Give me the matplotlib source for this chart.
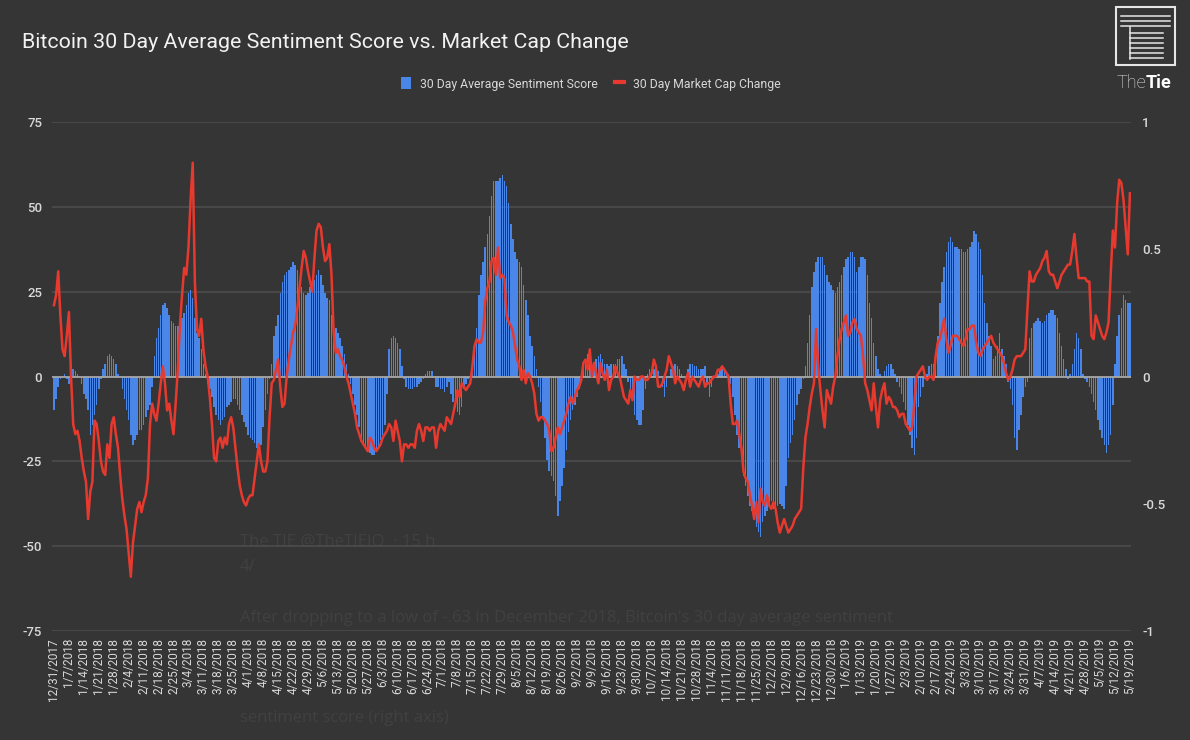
import matplotlib
matplotlib.use("Agg")
import matplotlib.pyplot as plt
from matplotlib.patches import Patch, Rectangle
from matplotlib.lines import Line2D
import pandas as pd

plt.rcParams['font.family'] = ['Roboto', 'DejaVu Sans']

START = '2017-12-31'

# 30 day average sentiment score (right axis), one value per day, one week per row
sentiment = [
    -0.13, -0.09, -0.04, -0.01, 0.00, 0.01, -0.01,
    -0.03, 0.01, 0.03, 0.02, 0.01, 0.00, -0.03,
    -0.07, -0.09, -0.13, -0.23, -0.19, -0.15, -0.11,
    -0.05, -0.01, 0.03, 0.05, 0.08, 0.09, 0.08,
    0.07, 0.05, 0.01, 0.00, -0.05, -0.09, -0.13,
    -0.17, -0.23, -0.27, -0.25, -0.23, -0.21, -0.21,
    -0.19, -0.16, -0.13, -0.11, -0.04, 0.08, 0.15,
    0.19, 0.24, 0.28, 0.29, 0.27, 0.24, 0.22,
    0.21, 0.20, 0.20, 0.21, 0.23, 0.25, 0.28,
    0.33, 0.34, 0.31, 0.23, 0.17, 0.15, 0.11,
    0.05, 0.01, -0.03, -0.05, -0.08, -0.12, -0.15,
    -0.17, -0.19, -0.17, -0.16, -0.12, -0.11, -0.10,
    -0.09, -0.09, -0.11, -0.13, -0.15, -0.18, -0.20,
    -0.23, -0.24, -0.25, -0.26, -0.28, -0.29, -0.27,
    -0.20, -0.13, -0.07, -0.01, 0.05, 0.16, 0.20,
    0.24, 0.33, 0.37, 0.40, 0.41, 0.42, 0.43,
    0.45, 0.44, 0.42, 0.37, 0.35, 0.33, 0.32,
    0.33, 0.35, 0.37, 0.38, 0.40, 0.42, 0.40,
    0.36, 0.33, 0.31, 0.30, 0.24, 0.21, 0.19,
    0.17, 0.15, 0.12, 0.09, 0.05, 0.01, -0.03,
    -0.07, -0.11, -0.15, -0.20, -0.24, -0.27, -0.28,
    -0.29, -0.30, -0.31, -0.31, -0.29, -0.28, -0.25,
    -0.23, -0.19, -0.07, 0.11, 0.15, 0.16, 0.15,
    0.13, 0.11, 0.04, -0.01, -0.04, -0.05, -0.05,
    -0.05, -0.04, -0.04, -0.03, -0.02, -0.01, 0.01,
    0.02, 0.02, 0.02, 0.00, -0.04, -0.04, -0.05,
    -0.05, -0.06, -0.04, -0.02, -0.07, -0.10, -0.12,
    -0.14, -0.15, -0.12, -0.05, -0.03, -0.01, 0.00,
    0.05, 0.12, 0.19, 0.32, 0.40, 0.45, 0.51,
    0.56, 0.63, 0.71, 0.77, 0.77, 0.77, 0.78,
    0.79, 0.77, 0.75, 0.68, 0.60, 0.54, 0.49,
    0.46, 0.45, 0.43, 0.36, 0.30, 0.24, 0.16,
    0.12, 0.08, 0.03, -0.04, -0.10, -0.16, -0.24,
    -0.33, -0.37, -0.39, -0.41, -0.47, -0.55, -0.49,
    -0.43, -0.36, -0.29, -0.22, -0.17, -0.13, -0.11,
    -0.08, -0.05, -0.02, 0.03, 0.05, 0.09, 0.05,
    0.04, 0.05, 0.07, 0.08, 0.09, 0.07, 0.05,
    0.05, 0.04, 0.05, 0.05, 0.05, 0.07, 0.07,
    0.08, 0.05, 0.03, -0.02, -0.05, -0.08, -0.15,
    -0.17, -0.19, -0.19, -0.13, -0.05, 0.01, 0.03,
    0.03, 0.03, 0.03, 0.02, 0.00, -0.04, -0.08,
    -0.04, 0.00, 0.03, 0.04, 0.05, 0.04, 0.03,
    0.01, 0.00, -0.01, 0.03, 0.05, 0.05, 0.04,
    0.04, 0.03, 0.03, 0.03, 0.04, -0.03, -0.08,
    -0.04, -0.01, 0.00, 0.01, 0.03, 0.03, 0.02,
    0.02, 0.01, -0.03, -0.08, -0.15, -0.23, -0.28,
    -0.32, -0.39, -0.43, -0.47, -0.51, -0.53, -0.56,
    -0.59, -0.61, -0.63, -0.57, -0.55, -0.53, -0.51,
    -0.49, -0.52, -0.52, -0.51, -0.50, -0.51, -0.52,
    -0.43, -0.32, -0.26, -0.23, -0.17, -0.11, -0.07,
    -0.05, -0.01, 0.04, 0.13, 0.24, 0.35, 0.41,
    0.45, 0.47, 0.47, 0.47, 0.44, 0.40, 0.37,
    0.36, 0.34, 0.33, 0.35, 0.37, 0.40, 0.43,
    0.46, 0.47, 0.49, 0.49, 0.47, 0.41, 0.43,
    0.47, 0.47, 0.46, 0.40, 0.29, 0.23, 0.13,
    0.08, 0.03, 0.01, 0.00, 0.02, 0.04, 0.05,
    0.05, 0.03, 0.01, -0.02, -0.04, -0.07, -0.10,
    -0.13, -0.19, -0.23, -0.28, -0.31, -0.24, -0.12,
    -0.08, -0.04, -0.01, 0.01, 0.04, 0.05, 0.05,
    0.09, 0.16, 0.29, 0.37, 0.43, 0.49, 0.53,
    0.55, 0.53, 0.51, 0.51, 0.50, 0.50, 0.49,
    0.49, 0.50, 0.51, 0.53, 0.57, 0.56, 0.53,
    0.50, 0.40, 0.29, 0.21, 0.16, 0.12, 0.07,
    0.08, 0.12, 0.17, 0.11, 0.08, 0.05, -0.02,
    -0.05, -0.11, -0.24, -0.29, -0.21, -0.15, -0.08,
    -0.04, -0.02, 0.15, 0.19, 0.21, 0.22, 0.23,
    0.22, 0.21, 0.22, 0.24, 0.25, 0.26, 0.26,
    0.24, 0.23, 0.17, 0.12, 0.07, 0.03, -0.01,
    0.01, 0.05, 0.11, 0.17, 0.15, 0.11, 0.01,
    -0.01, -0.02, -0.04, -0.07, -0.10, -0.13, -0.17,
    -0.21, -0.24, -0.27, -0.30, -0.27, -0.23, -0.11,
    0.05, 0.16, 0.24, 0.27, 0.32, 0.30, 0.29,
    0.29,
]

# 30 day market cap change in percent (left axis)
market_cap = [
    21, 24, 31, 18, 8, 6, 12,
    19, 0, -14, -17, -16, -19, -24,
    -28, -31, -42, -34, -31, -13, -14,
    -19, -25, -28, -29, -20, -24, -14,
    -12, -17, -21, -29, -36, -41, -45,
    -52, -59, -49, -44, -39, -37, -40,
    -37, -35, -30, -14, -8, -11, -13,
    -8, -2, 3, -2, -10, -8, -13,
    -17, -8, 2, 15, 24, 32, 30,
    38, 52, 63, 28, 14, 12, 17,
    8, 3, 0, -6, -14, -24, -25,
    -19, -18, -21, -18, -20, -14, -12,
    -15, -21, -27, -32, -35, -37, -38,
    -36, -35, -35, -30, -25, -20, -25,
    -28, -28, -25, -12, -2, -1, 2,
    5, -3, -9, -8, 0, 5, 9,
    13, 15, 20, 26, 32, 37, 35,
    31, 28, 25, 35, 43, 45, 44,
    38, 34, 35, 39, 30, 13, 7,
    8, 6, 5, 3, 0, -2, -5,
    -8, -11, -15, -17, -19, -20, -21,
    -22, -18, -19, -21, -22, -21, -20,
    -18, -17, -16, -14, -15, -19, -13,
    -16, -19, -25, -20, -20, -21, -20,
    -20, -21, -16, -14, -16, -19, -15,
    -15, -16, -15, -15, -21, -16, -14,
    -15, -16, -12, -13, -14, -11, -8,
    -4, -6, -2, -3, -4, -3, -2,
    3, 9, 11, 10, 10, 13, 22,
    26, 28, 34, 35, 30, 38, 29,
    30, 29, 18, 16, 15, 13, 9,
    5, 3, -1, 2, -2, 1, 0,
    -2, -5, -11, -13, -12, -12, -13,
    -14, -16, -22, -21, -18, -15, -17,
    -15, -13, -11, -8, -6, -8, -6,
    -4, -3, -1, 4, 5, 2, 8,
    0, 4, 1, -2, 4, 1, -1,
    2, -4, -1, 0, 3, 1, 0,
    -3, -6, -7, -8, -4, -7, 0,
    -1, -1, 0, 0, -1, -1, 0,
    1, 5, 3, -3, -3, -2, 0,
    2, 6, 4, 2, -2, 0, -1,
    -2, -4, -1, 1, -3, 0, -1,
    -2, -3, -1, 0, -3, -2, -2,
    -1, 0, 0, 2, 2, 3, 2,
    1, 0, -8, -14, -14, -13, -17,
    -21, -28, -30, -31, -35, -38, -42,
    -37, -43, -33, -37, -38, -35, -38,
    -39, -37, -39, -43, -46, -44, -42,
    -44, -46, -45, -44, -42, -41, -40,
    -39, -27, -18, -14, -9, -5, -2,
    14, 3, -4, -10, -15, -4, -6,
    -8, -3, 0, 6, 11, 14, 16,
    18, 12, 13, 16, 17, 14, 13,
    12, 6, -2, -4, -7, -10, -2,
    -9, -15, -7, -4, -2, -8, -6,
    -7, -9, -9, -10, -12, -11, -11,
    -14, -15, -16, -15, -8, 0, 1,
    2, 3, 0, -1, 0, 0, -1,
    6, 10, 11, 14, 17, 11, 7,
    9, 12, 12, 12, 11, 10, 9,
    11, 14, 14, 15, 15, 10, 7,
    6, 8, 9, 10, 11, 12, 10,
    9, 8, 7, 6, 4, 1, -1,
    0, 2, 5, 6, 6, 6, 7,
    8, 20, 31, 28, 28, 30, 31,
    32, 34, 35, 37, 31, 30, 30,
    28, 26, 28, 30, 31, 32, 33,
    33, 37, 42, 35, 29, 29, 29,
    29, 28, 28, 12, 11, 18, 16,
    14, 12, 11, 13, 16, 30, 43,
    38, 51, 58, 57, 52, 44, 36,
    54,
]

left_ticks = [-75, -50, -25, 0, 25, 50, 75]
right_ticks = [-1, -0.5, 0, 0.5, 1]
right_labels = ['-1', '-0.5', '0', '0.5', '1']

BG = '#353535'
BLUE = '#4a86e8'
RED = '#e8392f'
GRID = '#4f4f4f'
TXT = '#d8d8d8'

dates = pd.date_range(START, periods=len(sentiment), freq='D')

fig = plt.figure(figsize=(11.9, 7.4), dpi=100, facecolor=BG)
ax = fig.add_axes([0.0437, 0.1473, 0.9067, 0.6878])
ax2 = ax.twinx()
ax.set_zorder(ax2.get_zorder() + 1)
ax.patch.set_visible(False)
ax2.patch.set_visible(False)

# gridlines sit behind the bars
for t in left_ticks:
    if t != 0:
        ax2.axhline(t / 75, color=GRID, lw=1.1, zorder=0)

ax2.bar(dates, sentiment, width=0.7, color=BLUE, zorder=2, linewidth=0,
        antialiased=False)
ax.axhline(0, color='#a8a8a8', lw=1.3, zorder=1)
ax.plot(dates, market_cap, color=RED, lw=1.8, zorder=3)

ax.set_ylim(-75, 75)
ax2.set_ylim(-1, 1)
ax.set_yticks(left_ticks)
ax.set_yticklabels([str(t) for t in left_ticks])
ax2.set_yticks(right_ticks)
ax2.set_yticklabels(right_labels)
ax.set_xlim(dates[0] - pd.Timedelta(hours=22), dates[-1] + pd.Timedelta(hours=12))

weeks = dates[::7]
ax.set_xticks(weeks)
ax.set_xticklabels([f"{d.month}/{d.day}/{d.year}" for d in weeks], rotation=90,
                   fontsize=8.5, color=TXT)

for a in (ax, ax2):
    for s in a.spines.values():
        s.set_visible(False)
ax.tick_params(axis='x', length=0, pad=5)
ax.tick_params(axis='y', length=0, pad=7, labelsize=9.5, labelcolor=TXT)
ax2.tick_params(axis='y', length=0, pad=8, labelsize=9.5, labelcolor=TXT)
for lab in ax.get_yticklabels() + ax2.get_yticklabels():
    lab.set_fontweight('medium')

fig.text(22 / 1190, 1 - 43 / 740, 'Bitcoin 30 Day Average Sentiment Score vs. Market Cap Change',
         fontsize=15.4, color='#f2f2f2', va='center', ha='left')

handles = [Patch(facecolor=BLUE, edgecolor='none'), Line2D([0], [0], color=RED, lw=3)]
fig.legend(handles, ['30 Day Average Sentiment Score', '30 Day Market Cap Change'],
           loc='center', bbox_to_anchor=(0.4966, 0.8865), ncol=2, frameon=False,
           fontsize=8.8, labelcolor=TXT, handlelength=0.8, handleheight=1.1,
           handletextpad=0.7, columnspacing=1.4)

# logo
W, H = 1190, 740
def fx(x): return x / W
def fy(y): return 1 - y / H
LOGO = '#e6e6e6'
fig.add_artist(Rectangle((fx(1116), fy(65)), 59 / W, 58 / H, fill=False,
                         edgecolor=LOGO, lw=1.5, transform=fig.transFigure))
for y in (15.5, 20.5, 25.5):
    fig.add_artist(Line2D([fx(1121), fx(1170)], [fy(y), fy(y)], color=LOGO, lw=1.1))
fig.add_artist(Line2D([fx(1130), fx(1130)], [fy(27), fy(59)], color=LOGO, lw=1.1))
for y in (33, 38, 43, 48, 53, 58):
    fig.add_artist(Line2D([fx(1130), fx(1163)], [fy(y), fy(y)], color=LOGO, lw=1.1))
fig.text(fx(1146), fy(83), 'The', fontsize=13, color=LOGO, ha='right', va='center',
         fontweight='light')
fig.text(fx(1146), fy(83), 'Tie', fontsize=13, color='#ffffff', ha='left', va='center',
         fontweight='bold')

# faint overlay text from the screenshot
GHOST = '#414141'
ghost = [
    (542, 'The TIE @TheTIEIO  · 15 h'),
    (567, '4/'),
    (618, "After dropping to a low of -.63 in December 2018, Bitcoin's 30 day average sentiment"),
    (718, 'sentiment score (right axis)'),
]
for y, s in ghost:
    fig.text(fx(240), fy(y), s, fontsize=12, color=GHOST, ha='left', va='center',
             family=['Open Sans', 'DejaVu Sans'], zorder=-1)

fig.savefig('out.png', dpi=100, facecolor=BG)
